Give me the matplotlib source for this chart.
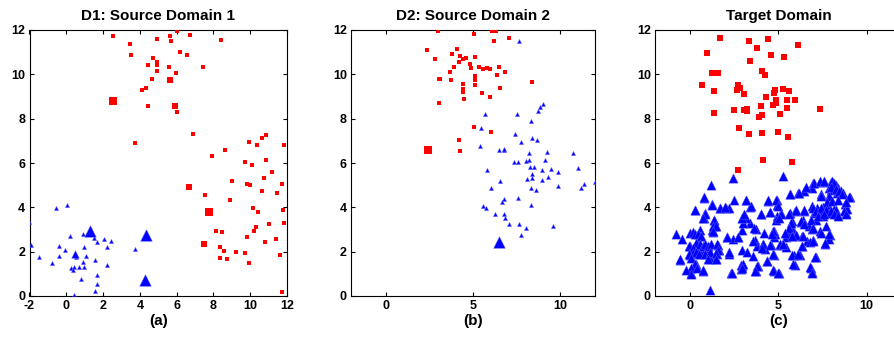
import matplotlib
matplotlib.use("Agg")
import matplotlib.pyplot as plt
import numpy as np

plt.rcParams['font.family'] = ['Liberation Sans', 'DejaVu Sans']
plt.rcParams['font.weight'] = 'bold'
plt.rcParams['axes.unicode_minus'] = False

titles = ["D1: Source Domain 1", "D2: Source Domain 2", "Target Domain"]
sublabels = ["(a)", "(b)", "(c)"]

# ---------------- Panel (a) ----------------
a_red_x = [2.53, 3.44, 3.50, 5.64, 5.67, 6.03, 6.70, 4.91, 8.39, 6.16, 6.54, 4.69, 4.95, 4.42, 4.95,
           4.91, 5.60, 5.94, 7.45, 4.67, 4.35, 4.09, 4.42, 6.00, 6.87, 3.71, 7.90, 8.61, 9.91,
           10.37, 10.62, 10.88, 11.86, 9.70, 10.08, 10.84, 11.17, 10.77, 8.99, 9.82, 9.97, 11.75,
           10.64, 11.44, 7.52, 8.92, 10.13, 10.40, 11.77, 11.02, 10.30, 11.82, 8.12, 8.45, 10.19,
           9.81, 10.79, 11.38, 8.34, 8.56, 9.21, 9.70, 8.34, 8.72, 11.60, 9.95, 11.71]
a_red_y = [11.74, 11.36, 10.85, 11.73, 11.49, 11.95, 11.77, 11.58, 11.53, 10.99, 10.85, 10.72, 10.55,
           10.40, 10.40, 10.17, 10.35, 10.05, 10.31, 9.81, 9.40, 9.31, 8.59, 8.32, 7.32, 6.91, 6.32,
           6.60, 6.94, 6.82, 7.11, 7.28, 6.82, 6.05, 5.92, 6.14, 5.60, 5.34, 5.19, 5.04, 5.03, 5.07,
           4.74, 4.65, 4.56, 4.33, 3.97, 3.80, 3.88, 3.25, 3.11, 3.31, 2.94, 2.90, 2.94, 2.66, 2.45,
           2.57, 2.20, 2.04, 1.99, 1.93, 1.72, 1.68, 1.86, 1.48, 0.17]
a_red_mid_x = [5.64, 5.89, 7.47, 6.67]
a_red_mid_y = [9.75, 8.59, 2.35, 4.91]
a_red_big_x = [2.55, 7.74]
a_red_big_y = [8.80, 3.79]

a_blue_x = [-2.00, -1.91, -1.47, -0.78, -0.55, 0.03, -0.39, -0.37, -0.06, 0.18, 0.25, 0.39, 0.41,
            0.54, 0.70, 0.81, 0.90, 0.94, 0.90, 0.96, 1.05, 0.41, 1.52, 1.66, 1.57, 1.66, 1.66,
            1.54, 2.04, 2.21, 2.43, 2.24, 3.75]
a_blue_y = [3.32, 2.29, 1.74, 1.48, 3.97, 4.12, 2.25, 1.81, 2.07, 2.69, 1.25, 1.16, 1.33, 1.74,
            1.31, 0.78, 1.52, 1.33, 2.79, 2.23, 1.81, 0.05, 2.63, 2.45, 1.63, 0.95, 0.53, 0.24,
            2.58, 2.19, 2.46, 1.39, 2.14]
a_blue_mid_x = [0.48]
a_blue_mid_y = [1.89]
a_blue_big_x = [1.30, 4.33, 4.29]
a_blue_big_y = [2.94, 2.75, 0.71]

# ---------------- Panel (b) ----------------
b_red_x = [3.01, 5.07, 6.07, 6.30, 6.18, 7.04, 2.38, 2.84, 4.11, 3.82, 4.28, 4.43, 4.57, 5.14, 4.22,
           3.93, 4.84, 4.86, 5.37, 5.55, 5.78, 5.95, 6.49, 3.70, 6.81, 6.35, 5.09, 3.13, 3.05, 3.76,
           5.09, 4.45, 5.14, 8.37, 4.40, 4.40, 6.53, 5.49, 5.95, 4.51, 3.07, 5.03, 6.01, 4.17, 4.28]
b_red_y = [11.94, 11.80, 11.94, 11.94, 11.49, 11.62, 11.08, 10.68, 11.13, 10.90, 10.81, 10.68, 10.72,
           10.77, 10.54, 10.32, 10.45, 10.27, 10.32, 10.23, 10.27, 10.23, 10.32, 10.09, 10.09, 9.96,
           9.91, 9.78, 9.78, 9.73, 9.73, 9.55, 9.51, 9.64, 9.33, 9.20, 9.37, 9.15, 8.97, 8.88, 8.70,
           7.62, 7.40, 7.04, 6.54]
b_red_big_x = [2.42]
b_red_big_y = [6.58]

b_blue_x = [7.62, 9.02, 8.87, 8.73, 5.68, 7.54, 8.35, 5.45, 7.43, 8.39, 8.68, 7.74, 5.41, 6.51, 6.78,
            6.78, 8.23, 9.25, 10.75, 7.38, 7.58, 8.21, 8.02, 9.12, 8.29, 8.50, 9.46, 11.02, 5.83, 8.94,
            9.88, 8.41, 8.37, 9.31, 8.08, 8.98, 6.56, 12.00, 11.38, 9.85, 11.17, 6.03, 8.35, 8.62,
            6.76, 6.66, 7.58, 8.31, 5.59, 5.72, 6.26, 6.79, 6.85, 7.04, 7.64, 8.02, 9.60, 7.74]
b_blue_y = [11.50, 8.65, 8.52, 8.36, 8.20, 8.22, 7.90, 7.59, 7.32, 7.11, 7.03, 6.93, 6.78, 6.58, 6.57,
            6.65, 6.45, 6.48, 6.47, 6.03, 6.06, 6.15, 6.11, 6.15, 5.81, 5.81, 5.75, 5.79, 5.69, 5.69,
            5.61, 5.49, 5.33, 5.36, 5.30, 5.25, 5.18, 5.15, 5.04, 4.94, 4.86, 4.86, 4.88, 4.76, 4.38,
            4.26, 4.43, 4.11, 4.04, 3.99, 3.72, 3.68, 3.51, 3.26, 3.24, 3.09, 3.14, 2.73]
b_blue_big_x = [6.47]
b_blue_big_y = [2.45]

# ---------------- Panel (c) ----------------
c_red_x = [1.70, 3.30, 4.42, 6.13, 3.79, 0.92, 4.58, 5.32, 3.40, 1.25, 1.58, 4.08, 4.25, 0.68, 2.72,
           1.36, 2.66, 2.81, 3.02, 4.81, 4.74, 5.26, 5.60, 4.30, 4.83, 5.49, 5.94, 4.87, 4.66, 3.98,
           5.49, 7.36, 2.49, 3.06, 3.23, 3.23, 1.36, 4.04, 3.92, 5.09, 2.77, 4.09, 3.30, 5.00, 5.55,
           4.13, 5.77, 2.72]
c_red_y = [11.65, 11.52, 11.60, 11.34, 11.20, 10.94, 10.85, 10.76, 10.58, 10.08, 10.04, 10.16, 9.95,
           9.53, 9.53, 9.27, 9.29, 9.37, 9.12, 9.29, 9.17, 9.36, 9.23, 8.96, 8.85, 8.85, 8.85, 8.69,
           8.60, 8.58, 8.49, 8.42, 8.37, 8.37, 8.43, 8.33, 8.24, 8.18, 8.06, 8.19, 7.59, 7.34, 7.29,
           7.41, 7.16, 6.15, 6.06, 5.70]

c_blue_x = [2.43, 5.26, 1.19, 6.96, 7.34, 7.57, 7.98, 8.11, 8.15, 8.26, 7.89, 8.40, 7.98, 8.53, 8.30,
            8.64, 9.08, 6.91, 6.47, 6.13, 5.68, 7.42, 0.75, 2.45, 3.15, 4.42, 4.89, 1.21, 4.89, 1.68,
            2.04, 2.19, 3.40, 0.26, 4.02, 4.49, 5.15, 5.64, 5.96, 6.47, 6.92, 7.21, 7.51, 7.74, 7.85,
            8.15, 8.34, 7.87, 7.55, 8.81, 8.75, 8.89, 7.32, 7.02, 0.83, 0.75, 1.36, 3.06, 2.92, 3.40,
            4.91, 4.87, 5.79, 6.26, 6.38, 7.11, 6.72, 5.74, 1.42, 1.25, 1.30, 2.92, 3.75, 5.79, 6.91,
            7.36, -0.79, -0.49, -0.04, 0.13, 0.25, 0.57, 0.57, 0.49, 2.08, 2.42, 2.68, 4.19, 4.74,
            4.81, 4.72, 5.47, 5.40, 5.85, 6.00, 6.32, 6.64, 6.96, 7.94, 7.85, 7.62, 3.66, 3.77, 4.11,
            4.57, 5.09, 5.28, 5.43, 6.36, 0.00, 0.19, 0.47, 0.75, 0.91, 1.02, 1.55, 1.62, 0.38, 0.60,
            0.00, 1.13, 1.51, 1.09, 1.47, 2.19, 2.94, 3.21, 3.53, 4.26, 4.72, 4.34, 5.89, 6.23, 7.15,
            -0.60, 0.30, 0.13, 2.91, 2.85, 3.81, 3.74, 5.92, 6.87, 6.91, 4.72, 5.02, 2.30, 0.74, 0.04,
            1.13,
            # further points read from the dense right part of the cluster
            7.03, 7.35, 7.60, 8.04, 8.17, 7.98, 8.26, 8.45, 8.60, 9.02, 6.56, 6.18, 5.66, 7.41, 7.88,
            7.73, 8.04, 8.36, 8.83, 4.39, 4.86, 3.45, 4.96, 4.02, 4.49, 5.15, 5.62, 6.00, 6.47, 6.94,
            7.13, 7.41, 7.69, 7.98, 8.26, 8.73, 8.83, 7.22, 7.60, 8.17, 8.36, 6.85, 6.28, 6.47, 5.05,
            5.71, 5.62, 7.69, 6.94, 3.63, 4.71, 5.37, 4.62, 6.00, 6.38, 7.41, 7.88, 5.75, 3.57, 4.14,
            4.52, 5.09, 5.28, 6.32, 6.79, 6.98, 7.64, 4.05, 4.66, 5.75, 6.13, 7.07, 4.34, 5.85, 3.78,
            4.71, 5.00, 6.79, 6.89, 3.68,
            # further points read from the left part of the cluster
            0.77, 0.28, 1.21, 1.71, 1.94, 3.17, 0.85, 0.72, 1.34, 1.28, 1.43, 1.26, 0.43, 0.62, 2.06,
            2.70, 2.98, 3.17, 2.94, 3.04, 0.34, -0.05, 0.15, 0.53, 0.72, 0.81, 1.00, 1.19, 1.53, 1.57,
            0.15, 0.34, -0.05, 0.47, 0.81, 1.09, 1.47, 0.06, 1.00, 1.47, 2.17, -0.61, 0.24, 0.06,
            -0.22, 0.06, 0.40, 0.72, 2.36, 2.85, 2.98, 2.92]
c_blue_y = [5.32, 5.40, 5.01, 5.08, 5.16, 5.16, 5.16, 5.10, 4.95, 5.01, 4.88, 4.86, 4.78, 4.75, 4.65,
            4.65, 4.45, 4.88, 4.72, 4.65, 4.60, 4.58, 4.44, 4.31, 4.31, 4.28, 4.33, 4.13, 4.10, 3.98,
            3.98, 3.98, 4.02, 3.87, 3.72, 3.80, 3.74, 3.74, 3.83, 3.83, 4.05, 3.95, 4.02, 4.20, 3.98,
            3.93, 3.68, 3.75, 3.60, 3.75, 4.17, 3.93, 3.78, 3.75, 3.75, 3.50, 3.43, 3.60, 3.50, 3.30,
            3.60, 3.45, 3.37, 3.35, 3.42, 3.42, 3.15, 3.07, 3.15, 3.00, 2.88, 3.00, 3.03, 3.00, 3.03,
            2.93, 2.79, 2.55, 2.85, 2.88, 2.78, 2.96, 2.70, 2.40, 2.67, 2.55, 2.65, 2.85, 2.91, 2.78,
            2.67, 2.78, 2.67, 2.70, 2.74, 2.70, 2.48, 2.52, 2.76, 2.55, 2.34, 2.52, 2.25, 2.33, 2.28,
            2.28, 2.31, 2.22, 2.25, 2.25, 2.22, 2.18, 2.22, 2.18, 2.25, 2.30, 2.07, 2.01, 1.89, 1.86,
            1.83, 1.88, 1.65, 1.65, 1.89, 2.07, 1.98, 1.80, 2.10, 1.86, 1.58, 1.83, 1.86, 1.76, 1.62,
            1.46, 1.31, 1.35, 1.23, 1.35, 1.11, 1.41, 1.26, 1.08, 1.13, 1.04, 1.02, 1.13, 1.02, 0.27,
            5.10, 5.17, 5.17, 5.21, 5.10, 4.90, 4.84, 4.72, 4.61, 4.47, 4.90, 4.65, 4.61, 4.53, 4.50,
            4.24, 4.27, 4.35, 4.24, 4.35, 4.35, 4.05, 4.05, 3.68, 3.78, 3.71, 3.71, 3.90, 3.86, 3.98,
            3.83, 3.98, 3.90, 3.83, 3.86, 3.83, 3.68, 3.61, 3.68, 3.68, 3.61, 3.45, 3.38, 3.23, 3.53,
            3.30, 3.08, 3.18, 3.05, 3.08, 2.93, 2.85, 2.78, 2.75, 2.70, 2.85, 2.78, 2.70, 2.48, 2.33,
            2.30, 2.33, 2.33, 2.25, 2.45, 2.48, 2.41, 2.18, 1.91, 1.85, 1.88, 1.76, 1.58, 1.46, 1.36,
            1.16, 1.05, 1.29, 1.05, 1.13,
            4.46, 3.88, 4.09, 3.98, 4.01, 4.31, 3.68, 3.53, 3.45, 3.15, 3.15, 2.93, 2.78, 2.70, 2.65,
            2.65, 3.30, 3.53, 3.53, 3.68, 2.40, 2.25, 2.18, 2.33, 2.25, 2.35, 2.25, 2.33, 2.33, 2.06,
            1.96, 2.00, 1.91, 1.91, 1.91, 1.98, 1.93, 1.73, 1.65, 1.65, 2.00, 1.65, 1.46, 1.25,
            1.16, 1.01, 1.25, 1.16, 1.05, 1.40, 1.46, 1.25]

RED = "#ff0000"
BLUE = "#0000ff"

fig = plt.figure(figsize=(8.94, 3.39), dpi=100)
W, H = 894.0, 339.0
boxes = [(29.5, 287.0), (351.0, 595.0), (655.0, 902.0)]
top_px, bot_px = 30.0, 296.0
axes = []
for (l, r) in boxes:
    ax = fig.add_axes([l / W, 1 - bot_px / H, (r - l) / W, (bot_px - top_px) / H])
    axes.append(ax)

def sq(ax, x, y, s):
    ax.scatter(x, y, s=s, marker='s', c=RED, linewidths=0, zorder=3)

def tri(ax, x, y, s):
    ax.scatter(x, y, s=s, marker='^', c=BLUE, linewidths=0.3, edgecolors='#6666ff', zorder=3)

ax = axes[0]
sq(ax, a_red_x, a_red_y, 6)
sq(ax, a_red_mid_x, a_red_mid_y, 16)
sq(ax, a_red_big_x, a_red_big_y, 34)
tri(ax, a_blue_x, a_blue_y, 9)
tri(ax, a_blue_mid_x, a_blue_mid_y, 30)
tri(ax, a_blue_big_x, a_blue_big_y, 70)

ax = axes[1]
sq(ax, b_red_x, b_red_y, 6)
sq(ax, b_red_big_x, b_red_big_y, 34)
tri(ax, b_blue_x, b_blue_y, 9)
tri(ax, b_blue_big_x, b_blue_big_y, 70)

ax = axes[2]
sq(ax, c_red_x, c_red_y, 24)
tri(ax, c_blue_x, c_blue_y, 45)

for i, ax in enumerate(axes):
    ax.set_xlim(-2, 12)
    ax.set_ylim(0, 12)
    if i == 0:
        ax.set_xticks(range(-2, 13, 2))
    else:
        ax.set_xticks([0, 5, 10])
    ax.set_yticks(range(0, 13, 2))
    ax.tick_params(direction='in', length=3, width=0.8, top=True, right=True,
                   labelsize=9, pad=3)
    for lab in ax.get_xticklabels() + ax.get_yticklabels():
        lab.set_fontweight('bold')
    for sp in ax.spines.values():
        sp.set_linewidth(0.8)
    ax.set_title(titles[i], fontsize=11, fontweight='bold', pad=7)
    ax.set_xlabel(sublabels[i], fontsize=11, fontweight='bold', labelpad=1)

fig.savefig("out.png", dpi=100)
